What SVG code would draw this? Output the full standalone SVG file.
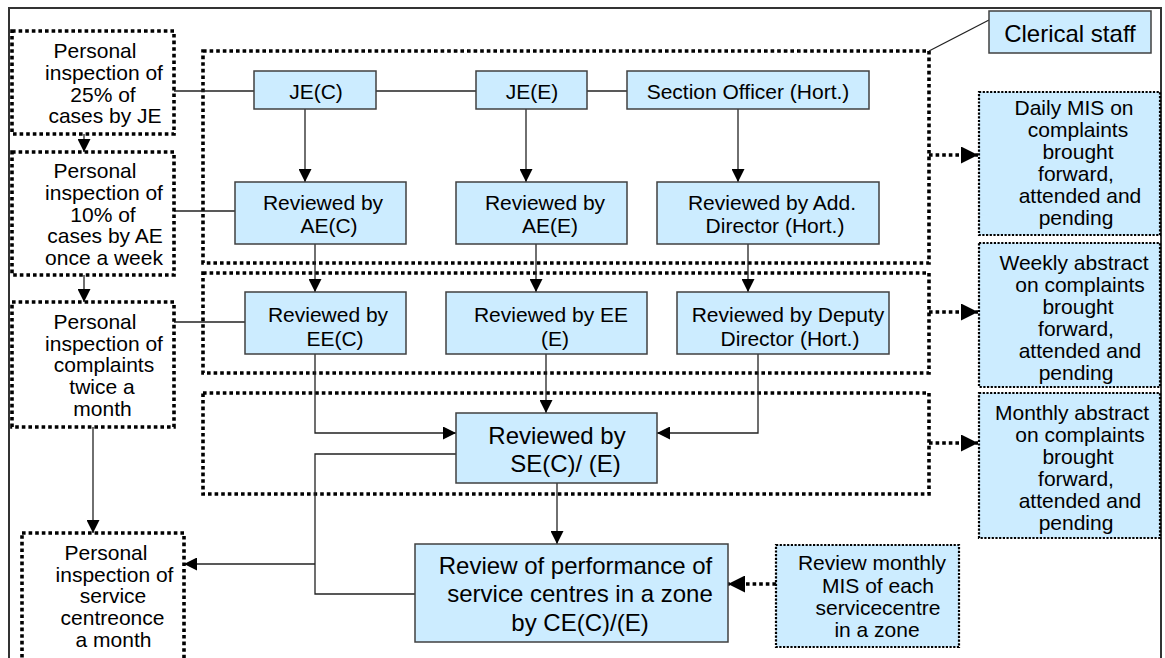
<svg xmlns="http://www.w3.org/2000/svg" width="1165" height="658" viewBox="0 0 1165 658">
<defs>
<style>
text{font-family:"Liberation Sans",Arial,sans-serif;fill:#000;text-anchor:middle}
.t21{font-size:21px}
.t24{font-size:24px}
.box{fill:#CCECFF;stroke:#404040;stroke-width:1.5}
.dbox{fill:#fff;stroke:#000;stroke-width:3.6;stroke-dasharray:3.6 3}
.cont{fill:none;stroke:#000;stroke-width:3.6;stroke-dasharray:3.6 3}
.bdot{fill:#CCECFF;stroke:#000;stroke-width:2.2;stroke-dasharray:2.2 1.5}
.ln{fill:none;stroke:#222;stroke-width:1.3}
.ar{fill:none;stroke:#222;stroke-width:1.3;marker-end:url(#ah)}
.dar{fill:none;stroke:#000;stroke-width:3.6;stroke-dasharray:3.6 3;marker-end:url(#dah)}
</style>
<marker id="ah" markerUnits="userSpaceOnUse" markerWidth="13" markerHeight="13" refX="13" refY="6.5" orient="auto" viewBox="0 0 13 13">
<path d="M0,0 L13,6.5 L0,13 Z" fill="#000"/>
</marker>
<marker id="dah" markerUnits="userSpaceOnUse" markerWidth="17" markerHeight="17" refX="17" refY="8.5" orient="auto" viewBox="0 0 17 17">
<path d="M0,0 L17,8.5 L0,17 Z" fill="#000"/>
</marker>
</defs>
<rect width="1165" height="658" fill="#fff"/>
<rect id="frame" x="9" y="8" width="1152" height="660" fill="none" stroke="#333" stroke-width="2"/>

<g id="containers">
<rect id="container-je" class="cont" x="203" y="51" width="726" height="212"/>
<rect id="container-ee" class="cont" x="203" y="273" width="726" height="100"/>
<rect id="container-se" class="cont" x="203" y="393" width="726" height="101"/>
</g>

<g id="connectors">
<line class="ln" x1="174" y1="91" x2="254" y2="91"/>
<line class="ln" x1="376" y1="91" x2="476" y2="91"/>
<line class="ln" x1="587" y1="91" x2="627" y2="91"/>
<line class="ln" x1="174" y1="211" x2="235" y2="211"/>
<line class="ln" x1="174" y1="322" x2="245" y2="322"/>
<line class="ln" x1="929" y1="51" x2="989" y2="20"/>
<line class="ar" x1="84" y1="134" x2="84" y2="152"/>
<line class="ar" x1="84" y1="275" x2="84" y2="302"/>
<line class="ar" x1="93" y1="427" x2="93" y2="533"/>
<line class="ar" x1="305" y1="109" x2="305" y2="182"/>
<line class="ar" x1="526" y1="109" x2="526" y2="182"/>
<line class="ar" x1="738" y1="109" x2="738" y2="182"/>
<line class="ar" x1="315" y1="244" x2="315" y2="292"/>
<line class="ar" x1="536" y1="244" x2="536" y2="292"/>
<line class="ar" x1="748" y1="244" x2="748" y2="292"/>
<polyline class="ar" points="315,354 315,433 456,433"/>
<line class="ar" x1="546" y1="354" x2="546" y2="413"/>
<polyline class="ar" points="758,354 758,433 657,433"/>
<line class="ar" x1="557" y1="483" x2="557" y2="544"/>
<polyline class="ln" points="456,454 315,454 315,594 415,594"/>
<line class="ar" x1="315" y1="564" x2="184" y2="564"/>
<line class="dar" x1="929" y1="155" x2="978" y2="155"/>
<line class="dar" x1="929" y1="312" x2="978" y2="312"/>
<line class="dar" x1="929" y1="443" x2="978" y2="443"/>
<line class="dar" x1="776" y1="584" x2="728" y2="584"/>
</g>

<g id="insp-je">
<rect class="dbox" x="12" y="31" width="162" height="103"/>
<text class="t21"><tspan x="95" y="58">Personal</tspan><tspan x="104" y="80">inspection of</tspan><tspan x="103" y="101.5">25% of</tspan><tspan x="105" y="123">cases by JE</tspan></text>
</g>
<g id="insp-ae">
<rect class="dbox" x="12" y="152" width="162" height="123"/>
<text class="t21"><tspan x="95" y="178">Personal</tspan><tspan x="104" y="200">inspection of</tspan><tspan x="103" y="221.5">10% of</tspan><tspan x="105" y="243">cases by AE</tspan><tspan x="104" y="265">once a week</tspan></text>
</g>
<g id="insp-complaints">
<rect class="dbox" x="12" y="302" width="162" height="125"/>
<text class="t21"><tspan x="95" y="329">Personal</tspan><tspan x="104" y="351">inspection of</tspan><tspan x="104" y="372">complaints</tspan><tspan x="102" y="394">twice a</tspan><tspan x="102.5" y="416">month</tspan></text>
</g>
<g id="insp-centre">
<rect class="dbox" x="22" y="533" width="162" height="128"/>
<text class="t21"><tspan x="106" y="560">Personal</tspan><tspan x="114.5" y="582">inspection of</tspan><tspan x="113" y="603">service</tspan><tspan x="112.5" y="625">centreonce</tspan><tspan x="113.5" y="647">a month</tspan></text>
</g>

<g id="je-c"><rect class="box" x="254" y="71" width="122" height="38"/><text class="t21" x="316" y="98.5">JE(C)</text></g>
<g id="je-e"><rect class="box" x="476" y="71" width="111" height="38"/><text class="t21" x="532" y="98.5">JE(E)</text></g>
<g id="so-hort"><rect class="box" x="627" y="71" width="242" height="38"/><text class="t21" x="748" y="98.5">Section Officer (Hort.)</text></g>

<g id="ae-c"><rect class="box" x="235" y="182" width="171" height="62"/><text class="t21"><tspan x="323" y="210">Reviewed by</tspan><tspan x="329" y="233">AE(C)</tspan></text></g>
<g id="ae-e"><rect class="box" x="456" y="182" width="171" height="62"/><text class="t21"><tspan x="545" y="210">Reviewed by</tspan><tspan x="550" y="233">AE(E)</tspan></text></g>
<g id="add-dir"><rect class="box" x="657" y="182" width="222" height="62"/><text class="t21"><tspan x="772" y="210">Reviewed by Add.</tspan><tspan x="775" y="233">Director (Hort.)</tspan></text></g>

<g id="ee-c"><rect class="box" x="245" y="292" width="161" height="62"/><text class="t21"><tspan x="328" y="321.5">Reviewed by</tspan><tspan x="335" y="346">EE(C)</tspan></text></g>
<g id="ee-e"><rect class="box" x="446" y="292" width="201" height="62"/><text class="t21"><tspan x="551" y="321.5">Reviewed by EE</tspan><tspan x="555" y="346">(E)</tspan></text></g>
<g id="dep-dir"><rect class="box" x="677" y="292" width="212" height="62"/><text class="t21"><tspan x="788" y="321.5">Reviewed by Deputy</tspan><tspan x="790" y="346">Director (Hort.)</tspan></text></g>

<g id="se"><rect class="box" x="456" y="413" width="201" height="70"/><text class="t24"><tspan x="557" y="444">Reviewed by</tspan><tspan x="565.5" y="472">SE(C)/ (E)</tspan></text></g>

<g id="ce"><rect class="box" x="415" y="544" width="313" height="98"/><text class="t24"><tspan x="575.5" y="574">Review of performance of</tspan><tspan x="580" y="602">service centres in a zone</tspan><tspan x="580" y="631">by CE(C)/(E)</tspan></text></g>

<g id="review-mis"><rect class="bdot" x="776" y="545" width="183" height="102"/><text class="t21"><tspan x="872" y="570">Review monthly</tspan><tspan x="878" y="593">MIS of each</tspan><tspan x="878" y="615">servicecentre</tspan><tspan x="877" y="637">in a zone</tspan></text></g>

<g id="clerical"><rect class="box" x="989" y="11" width="162" height="42"/><text class="t24" x="1070" y="41.5">Clerical staff</text></g>

<g id="daily-mis"><rect class="bdot" x="979" y="92" width="181" height="143"/><text class="t21"><tspan x="1074" y="115">Daily MIS on</tspan><tspan x="1078" y="137">complaints</tspan><tspan x="1078" y="159">brought</tspan><tspan x="1076" y="181">forward,</tspan><tspan x="1080" y="203">attended and</tspan><tspan x="1076" y="225">pending</tspan></text></g>
<g id="weekly"><rect class="bdot" x="979" y="243" width="181" height="144"/><text class="t21"><tspan x="1074" y="270">Weekly abstract</tspan><tspan x="1080" y="292">on complaints</tspan><tspan x="1078" y="314">brought</tspan><tspan x="1076" y="336">forward,</tspan><tspan x="1080" y="358">attended and</tspan><tspan x="1076" y="380">pending</tspan></text></g>
<g id="monthly"><rect class="bdot" x="979" y="393" width="181" height="145"/><text class="t21"><tspan x="1072" y="420">Monthly abstract</tspan><tspan x="1080" y="442">on complaints</tspan><tspan x="1078" y="464">brought</tspan><tspan x="1076" y="486">forward,</tspan><tspan x="1080" y="508">attended and</tspan><tspan x="1076" y="530">pending</tspan></text></g>
</svg>
